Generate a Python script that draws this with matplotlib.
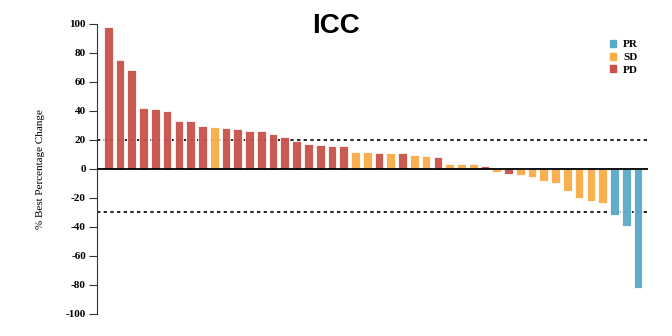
import matplotlib.pyplot as plt
from matplotlib.patches import Patch

# best % change per patient, sorted, with response category
values = [98, 75, 68.5, 41.8, 41.3, 40.3, 33, 32.8, 29.4, 28.7,
          28, 27.5, 26, 26, 23.9, 22.3, 19, 17, 16.5, 16.2,
          16, 12, 12, 11.3, 10.8, 10.8, 9.4, 8.7, 8.5, 3.7,
          3.4, 3.4, 1.8, -2.1, -3.7, -4.4, -5.7, -8.5, -9.7, -15.4,
          -20, -22.3, -23.2, -31.9, -39, -82.3]
response = ['PD'] * 9 + ['SD'] + ['PD'] * 11 + ['SD', 'SD', 'PD', 'SD', 'PD', 'SD', 'SD', 'PD',
            'SD', 'SD', 'SD', 'PD', 'SD', 'PD'] + ['SD'] * 8 + ['PR'] * 3
colors = {'PR': '#5aa9c6', 'SD': '#f9ac48', 'PD': '#c9514a'}
yticks = list(range(-100, 101, 20))

plt.rcParams['font.family'] = 'Liberation Serif'
fig = plt.figure(figsize=(6.72, 3.36), dpi=100)
ax = fig.add_axes([0.1443, 0.0655, 0.82, 0.8631])

x = list(range(len(values)))
ax.bar(x, values, width=0.74, color=[colors[r] for r in response],
       edgecolor='#ffffff', linewidth=0.6, alpha=0.95, zorder=2)

ax.set_xlim(-0.96, 45.85)
ax.set_ylim(-100, 100)
ax.axhline(0, color='black', lw=1.3, zorder=3)
ax.axhline(20, color='black', lw=1.2, ls=(0, (2, 2)), zorder=1)
ax.axhline(-30, color='black', lw=1.2, ls=(0, (2, 2)), zorder=1)

for s in ['top', 'right', 'bottom']:
    ax.spines[s].set_visible(False)
ax.spines['left'].set_color('#333333')
ax.set_xticks([])
ax.set_yticks(yticks)
ax.set_yticklabels([str(t) for t in yticks], fontweight='bold', fontsize=8)
ax.tick_params(axis='y', length=6, width=0.8, pad=2, color='#333333')
ax.set_ylabel('% Best Percentage Change', fontsize=8, labelpad=15)

fig.text(0.5, 0.902, 'ICC', family='Liberation Sans', fontweight='bold',
         fontsize=20, ha='center', va='baseline')

handles = [Patch(color=colors[k]) for k in ['PR', 'SD', 'PD']]
ax.legend(handles, ['PR', 'SD', 'PD'], loc='upper right', bbox_to_anchor=(1.0, 0.98),
          frameon=False, handlelength=0.6, handleheight=0.6, handletextpad=0.6,
          labelspacing=0.3, prop={'weight': 'bold', 'size': 8})

fig.savefig('out.png', dpi=100)
